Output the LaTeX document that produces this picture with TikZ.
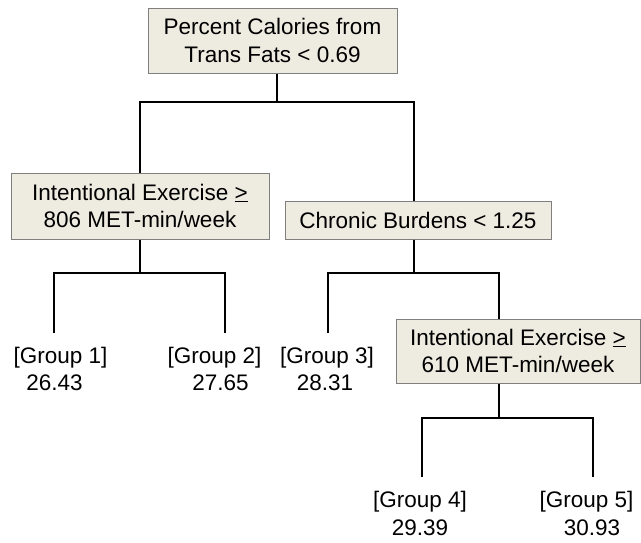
\documentclass[tikz,border=0pt]{standalone}
\usepackage{fontspec}
\setmainfont{Liberation Sans}
\definecolor{boxfill}{HTML}{EEECE1}
\definecolor{boxline}{HTML}{7F7F7F}
\newcommand{\geqbar}{\underline{>}}
\tikzset{
  split/.style={draw=boxline, fill=boxfill, line width=1pt, inner sep=0pt, align=center,
    font=\fontsize{22.5}{27.5}\selectfont},
  leaf/.style={inner sep=0pt, anchor=base, font=\fontsize{22.5}{27}\selectfont},
  conn/.style={line width=2pt, black}
}
\begin{document}
\begin{tikzpicture}[x=1pt,y=-1pt]
\useasboundingbox (0,0) rectangle (641,542);
% split boxes
\node[split, minimum width=249pt, minimum height=65pt] (root) at (272.5,40.5) {Percent Calories from\\Trans Fats < 0.69};
\node[split, minimum width=258pt, minimum height=66pt] (b2) at (140,206) {Intentional Exercise \geqbar\\806 MET-min/week};
\node[split, minimum width=266pt, minimum height=38pt] (b3) at (418,220) {Chronic Burdens < 1.25};
\node[split, minimum width=244pt, minimum height=64pt] (b4) at (518,351) {Intentional Exercise \geqbar\\610 MET-min/week};
% leaves
\node[leaf] (g1) at (60.5,363) {[Group 1]};
\node[leaf] (v1) at (54.5,390) {26.43};
\node[leaf] (g2) at (214.5,363) {[Group 2]};
\node[leaf] (v2) at (220.5,390) {27.65};
\node[leaf] (g3) at (327,363) {[Group 3]};
\node[leaf] (v3) at (325,390) {28.31};
\node[leaf] (g4) at (420,507) {[Group 4]};
\node[leaf] (v4) at (420,535) {29.39};
\node[leaf] (g5) at (586.5,507) {[Group 5]};
\node[leaf] (v5) at (592,535) {30.93};
% junctions and leg ends
\coordinate (j1) at (277,102);
\coordinate (s3) at (414,201);
\coordinate (j2) at (140,273);
\coordinate (e1) at (54,333);
\coordinate (e2) at (225,333);
\coordinate (j3) at (414,273);
\coordinate (e3) at (328,333);
\coordinate (s4) at (499,319);
\coordinate (j4) at (499,418);
\coordinate (e4) at (422,477);
\coordinate (e5) at (593,477);
% connectors
\draw[conn] (root.south -| j1) -- (j1);
\draw[conn] (b2.north) |- (j1) -| (s3);
\draw[conn] (b2.south) -- (j2);
\draw[conn] (e1) |- (j2) -| (e2);
\draw[conn] (b3.south -| j3) -- (j3);
\draw[conn] (e3) |- (j3) -| (s4);
\draw[conn] (b4.south -| j4) -- (j4);
\draw[conn] (e4) |- (j4) -| (e5);
\end{tikzpicture}
\end{document}
